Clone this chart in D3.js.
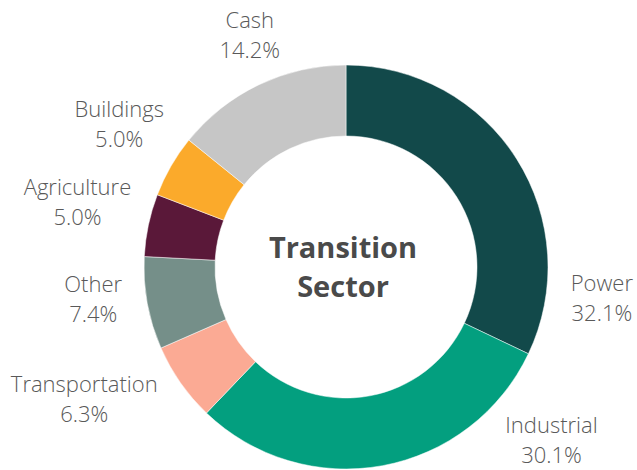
<html>
<head>
  <meta charset="utf-8">
  <style type="text/css">
    body { margin: 0; background: #fff; }
    .label { font-family: "Open Sans", sans-serif; font-weight: 300; font-size: 22px; fill: #595959; }
    .center { font-family: "Open Sans", sans-serif; font-weight: 700; font-size: 29px; fill: #4a4a4a; }
  </style>
</head>
<body>
<script src="https://d3js.org/d3.v7.min.js"></script>
<script>
  var sectors = ["Power", "Industrial", "Transportation", "Other", "Agriculture", "Buildings", "Cash"];
  var shares = [32.1, 30.1, 6.3, 7.4, 5.0, 5.0, 14.2];
  var colors = ["#12494a", "#039f7f", "#fbaa94", "#758f89", "#5a1839", "#fbaa2b", "#c6c6c6"];

  // where each label sits: angle (deg from top, clockwise) and distance from centre
  var labelPos = {
    "Power": [95.4, 257], "Industrial": [128.9, 264], "Transportation": [244.5, 290],
    "Other": [264.4, 254], "Agriculture": [285, 278], "Buildings": [303.5, 272], "Cash": [338.1, 258]
  };

  var width = 637, height = 470
    , cx = 346, cy = 267
    , outer = 202, inner = 131;

  var data = sectors.map(function (s, i) { return { name: s, value: shares[i], color: colors[i] }; });

  var svg = d3.select("body").append("svg")
    .attr("width", width)
    .attr("height", height);

  var g = svg.append("g")
    .attr("transform", "translate(" + cx + "," + cy + ")");

  var pie = d3.pie().sort(null).value(function (d) { return d.value; });
  var arc = d3.arc().innerRadius(inner).outerRadius(outer);

  g.selectAll("path")
    .data(pie(data))
    .enter()
    .append("path")
    .attr("d", arc)
    .attr("fill", function (d) { return d.data.color; })
    .attr("stroke", "#fff")
    .attr("stroke-width", 0.5);

  var labels = g.selectAll("text.label")
    .data(data)
    .enter()
    .append("text")
    .attr("class", "label")
    .attr("text-anchor", "middle")
    .attr("transform", function (d) {
      var p = labelPos[d.name], a = p[0] * Math.PI / 180;
      return "translate(" + (p[1] * Math.sin(a)) + "," + (-p[1] * Math.cos(a)) + ")";
    });
  labels.append("tspan").attr("x", 0).attr("y", 0).text(function (d) { return d.name; });
  labels.append("tspan").attr("x", 0).attr("y", 30).text(function (d) { return d.value.toFixed(1) + "%"; });

  var c = g.append("text").attr("class", "center").attr("text-anchor", "middle");
  c.append("tspan").attr("x", -3).attr("y", -9).text("Transition");
  c.append("tspan").attr("x", -3).attr("y", 30).text("Sector");
</script>
</body>
</html>
